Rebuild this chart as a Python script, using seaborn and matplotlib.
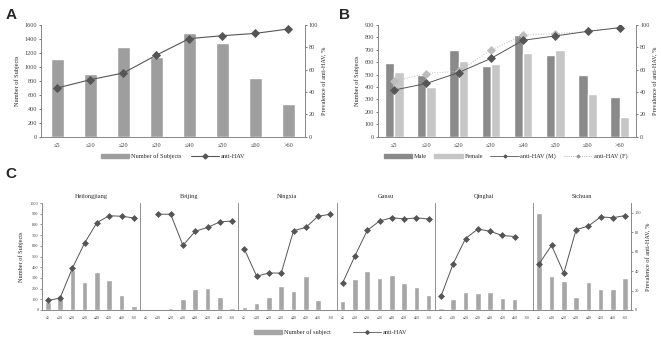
import numpy as np
import pandas as pd
import seaborn as sns
import matplotlib.pyplot as plt
from matplotlib.lines import Line2D
from matplotlib.patches import Patch

# age groups
ages = ['≤5', '≤10', '≤20', '≤30', '≤40', '≤50', '≤60', '>60']

# panel A
subjects_all = [1108, 893, 1289, 1141, 1480, 1347, 836, 463]
prev_all = [43.6, 51.0, 57.0, 73.0, 87.8, 90.4, 92.5, 96.4]

# panel B
subjects_male = [595, 495, 696, 568, 817, 662, 498, 316]
subjects_female = [517, 402, 608, 584, 678, 696, 343, 155]
prev_male = [41.7, 47.6, 57.4, 70.0, 86.3, 90.2, 94.3, 97.6]
prev_female = [49.7, 56.5, 58.6, 77.4, 91.0, 92.3, 94.3, 97.6]

# panel C, one pair of arrays per province
provinces = ['Heilongjiang', 'Beijing', 'Ningxia', 'Gansu', 'Qinghai', 'Sichuan']
n_heilongjiang = [75, 120, 375, 265, 355, 285, 140, 35]
p_heilongjiang = [9.8, 12.2, 43.0, 69.0, 90.0, 97.0, 96.5, 94.8]
n_beijing = [0, 0, 15, 105, 200, 210, 125, 20]
p_beijing = [np.nan, 98.6, 98.6, 66.5, 81.0, 85.0, 90.6, 91.6]
n_ningxia = [25, 65, 120, 220, 180, 320, 95, 0]
p_ningxia = [62.7, 34.8, 38.0, 38.0, 81.5, 85.0, 96.5, 98.6]
n_gansu = [88, 287, 366, 303, 328, 250, 212, 137]
p_gansu = [27.9, 55.7, 81.9, 91.6, 95.0, 93.7, 94.8, 93.7]
n_qinghai = [16, 100, 172, 162, 169, 109, 103, 0]
p_qinghai = [14.0, 47.7, 73.5, 83.3, 81.0, 76.7, 75.6, np.nan]
n_sichuan = [906, 319, 272, 122, 259, 197, 197, 303]
p_sichuan = [47.7, 66.5, 38.0, 82.6, 86.4, 95.8, 95.0, 97.2]

counts_c = [n_heilongjiang, n_beijing, n_ningxia, n_gansu, n_qinghai, n_sichuan]
prev_c = [p_heilongjiang, p_beijing, p_ningxia, p_gansu, p_qinghai, p_sichuan]

sns.set_style('white')
plt.rcParams['font.family'] = ['Liberation Serif', 'DejaVu Serif']
plt.rcParams['axes.linewidth'] = 0.6
plt.rcParams['axes.edgecolor'] = '#888888'

BAR = '#9e9e9e'
MALE = '#8a8a8a'
FEMALE = '#c6c6c6'
LINE = '#555555'
FS = 4.5

fig = plt.figure(figsize=(6.61, 3.38), dpi=100)


def style_axes(ax, ax2):
    for a in (ax, ax2):
        a.spines['top'].set_visible(False)
        a.set_xlabel('')
        a.tick_params(labelsize=FS, length=1.5, width=0.5, pad=1.5, colors='#444444')
    ax.tick_params(axis='x', length=0, pad=5)


# ---- A
axA = fig.add_axes([0.062, 0.596, 0.399, 0.330])
dfA = pd.DataFrame({'age': ages, 'n': subjects_all, 'prev': prev_all})
sns.barplot(data=dfA, x='age', y='n', order=ages, color=BAR, width=0.4,
            saturation=1, ax=axA)
axA2 = axA.twinx()
sns.pointplot(data=dfA, x='age', y='prev', order=ages, color=LINE, markers='D',
              markersize=4, linewidth=0.8, errorbar=None, ax=axA2)
axA.set_ylim(0, 1600)
axA.set_yticks(range(0, 1601, 200))
axA2.set_ylim(0, 100)
axA2.set_yticks(range(0, 101, 20))
axA.set_ylabel('Number of Subjects', fontsize=FS, labelpad=3)
axA2.set_ylabel('Prevalence of anti-HAV, %', fontsize=FS, labelpad=3)
style_axes(axA, axA2)
fig.text(0.008, 0.975, 'A', fontsize=11, fontweight='bold', family='Liberation Sans', va='top')
fig.legend(handles=[Patch(color=BAR, label='Number of Subjects'),
                    Line2D([], [], color=LINE, marker='D', markersize=2.5, lw=0.8, label='anti-HAV')],
           loc='center', bbox_to_anchor=(0.262, 0.537), ncol=2, frameon=False,
           fontsize=FS, handlelength=4.5, handleheight=0.6, columnspacing=1.5, handletextpad=0.3)

# ---- B
axB = fig.add_axes([0.572, 0.596, 0.390, 0.330])
dfB = pd.DataFrame({'age': ages * 2,
                    'n': subjects_male + subjects_female,
                    'sex': ['Male'] * len(ages) + ['Female'] * len(ages)})
sns.barplot(data=dfB, x='age', y='n', hue='sex', order=ages, palette=[MALE, FEMALE],
            width=0.58, saturation=1, legend=False, ax=axB)
axB2 = axB.twinx()
dfBp = pd.DataFrame({'age': ages, 'm': prev_male, 'f': prev_female})
sns.pointplot(data=dfBp, x='age', y='f', order=ages, color='#bdbdbd', markers='D',
              markersize=4, linewidth=0.7, linestyles=':', errorbar=None, ax=axB2)
sns.pointplot(data=dfBp, x='age', y='m', order=ages, color=LINE, markers='D',
              markersize=4, linewidth=0.7, errorbar=None, ax=axB2)
axB.set_ylim(0, 900)
axB.set_yticks(range(0, 901, 100))
axB2.set_ylim(0, 100)
axB2.set_yticks(range(0, 101, 20))
axB.set_ylabel('Number of Subjects', fontsize=FS, labelpad=3)
axB2.set_ylabel('Prevalence of anti-HAV, %', fontsize=FS, labelpad=3)
style_axes(axB, axB2)
fig.text(0.513, 0.975, 'B', fontsize=11, fontweight='bold', family='Liberation Sans', va='top')
fig.legend(handles=[Patch(color=MALE, label='Male'), Patch(color=FEMALE, label='Female'),
                    Line2D([], [], color=LINE, marker='D', markersize=1.5, lw=0.6, label='anti-HAV (M)'),
                    Line2D([], [], color='#999999', ls=':', marker='D', markersize=1.5, lw=0.6,
                           label='anti-HAV (F)')],
           loc='center', bbox_to_anchor=(0.765, 0.537), ncol=4, frameon=False,
           fontsize=FS, handlelength=4.5, handleheight=0.6, columnspacing=1.2, handletextpad=0.3)

# ---- C
fig.text(0.008, 0.505, 'C', fontsize=11, fontweight='bold', family='Liberation Sans', va='top')
left0, width_c = 0.063, 0.1487
for i, prov in enumerate(provinces):
    ax = fig.add_axes([left0 + i * width_c, 0.083, width_c, 0.316])
    df = pd.DataFrame({'age': ages, 'n': counts_c[i], 'prev': prev_c[i]})
    sns.barplot(data=df, x='age', y='n', order=ages, color='#a6a6a6', width=0.45,
                saturation=1, ax=ax)
    ax2 = ax.twinx()
    sns.pointplot(data=df, x='age', y='prev', order=ages, color=LINE, markers='D',
                  markersize=3, linewidth=0.7, errorbar=None, ax=ax2)
    ax.set_ylim(0, 1000)
    ax.set_yticks(range(0, 1001, 100))
    ax2.set_ylim(0, 110)
    ax2.set_yticks(range(0, 101, 20))
    for a in (ax, ax2):
        a.spines['top'].set_visible(False)
        a.set_xlabel('')
        a.set_ylabel('')
        a.tick_params(labelsize=3.2, length=1.2, width=0.4, pad=1, colors='#444444')
    ax.tick_params(axis='x', length=0, pad=4, labelsize=2.8)
    ax.set_title(prov, fontsize=FS, pad=4)
    if i == 0:
        ax.set_ylabel('Number of Subjects', fontsize=FS, labelpad=4)
    else:
        ax.tick_params(axis='y', left=False, labelleft=False)
        ax.spines['left'].set_color('#d0d0d0')
    if i == len(provinces) - 1:
        ax2.set_ylabel('Prevalence of anti-HAV, %', fontsize=FS, labelpad=4)
    else:
        ax2.tick_params(axis='y', right=False, labelright=False)
        ax2.spines['right'].set_visible(False)

fig.legend(handles=[Patch(color='#a6a6a6', label='Number of subject'),
                    Line2D([], [], color=LINE, marker='D', markersize=1.8, lw=0.6, label='anti-HAV')],
           loc='center', bbox_to_anchor=(0.5, 0.018), ncol=2, frameon=False,
           fontsize=FS, handlelength=4.5, handleheight=0.6, columnspacing=3.5, handletextpad=0.3)

fig.savefig('out.png', dpi=100)
